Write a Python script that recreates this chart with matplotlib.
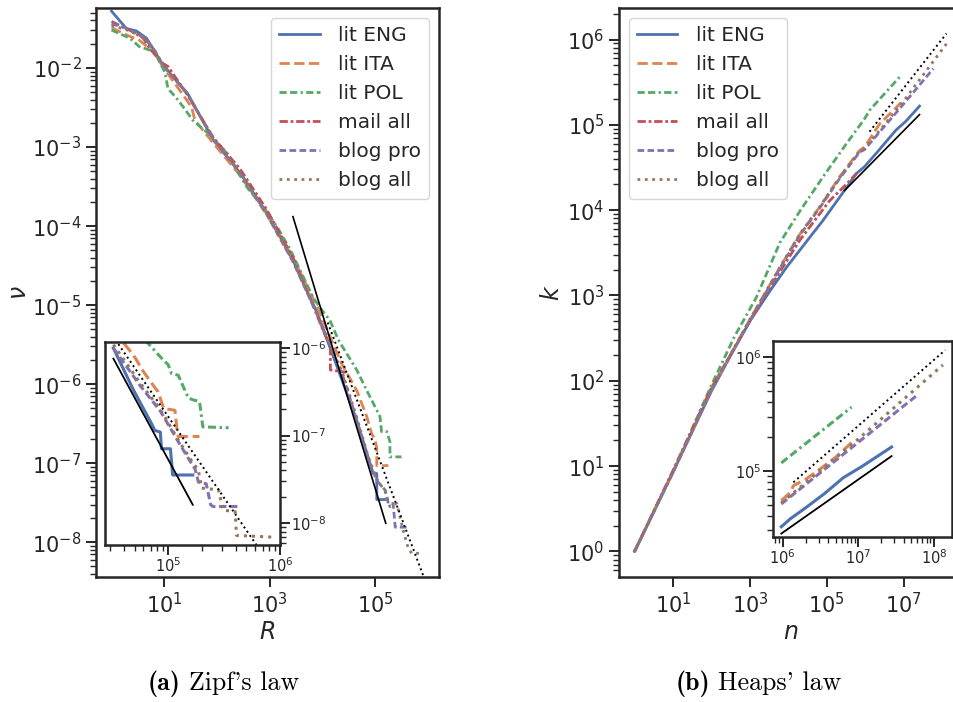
import numpy as np
import matplotlib
matplotlib.use("Agg")
import matplotlib.pyplot as plt
from matplotlib.ticker import NullLocator, NullFormatter, FixedLocator

# ---------------- data (log10 values) ----------------
labels = ["lit ENG", "lit ITA", "lit POL", "mail all", "blog pro", "blog all"]
colors = ["#4C72B0", "#DD8452", "#55A868", "#C44E52", "#8172B3", "#937860"]
styles = ["-", "--", (0, (2.6, 1.2, 2.6, 1.2, 0.8, 1.2)), (0, (3, 1, 1, 1)), (0, (2.4, 1.2)), ":"]

# Zipf main: log10 R, log10 nu
zipf_eng_x = [0.0, 0.28, 0.47, 0.66, 0.82, 0.97, 1.44, 1.93, 2.44, 2.95, 3.44, 3.90, 4.30, 4.65, 4.90, 4.96, 5.03, 5.03, 5.19]
zipf_eng_y = [-1.28, -1.50, -1.53, -1.62, -1.79, -1.96, -2.32, -2.91, -3.33, -3.84, -4.43, -5.10, -5.82, -6.46, -7.00, -7.13, -7.13, -7.46, -7.46]
zipf_ita_x = [0.0, 0.28, 0.53, 0.79, 0.97, 1.42, 1.52, 1.58, 1.93, 2.44, 2.95, 3.44, 3.90, 4.37, 4.65, 4.84, 4.93, 5.00, 5.03, 5.03, 5.25]
zipf_ita_y = [-1.49, -1.58, -1.65, -1.79, -1.98, -2.40, -2.50, -2.66, -2.95, -3.36, -3.86, -4.40, -5.02, -5.75, -6.08, -6.41, -6.62, -6.71, -6.81, -7.03, -7.03]
zipf_pol_x = [0.0, 0.34, 0.53, 0.81, 1.01, 1.07, 1.23, 1.38, 1.54, 1.82, 2.19, 2.57, 2.88, 3.14, 3.39, 3.82, 3.95, 4.14, 4.30, 4.65, 4.84, 5.00, 5.09, 5.12, 5.22, 5.28, 5.28, 5.50]
zipf_pol_y = [-1.52, -1.62, -1.73, -1.79, -2.05, -2.26, -2.38, -2.51, -2.66, -2.82, -3.08, -3.51, -3.76, -4.01, -4.30, -4.90, -5.03, -5.19, -5.44, -5.82, -6.08, -6.29, -6.41, -6.60, -6.60, -6.73, -6.92, -6.92]
zipf_mail_x = [0.0, 0.34, 0.60, 0.72, 0.97, 1.07, 1.42, 1.93, 2.44, 2.95, 3.44, 3.82, 4.00, 4.10, 4.15, 4.15, 4.45]
zipf_mail_y = [-1.41, -1.52, -1.62, -1.75, -1.94, -1.98, -2.32, -2.88, -3.28, -3.80, -4.40, -5.00, -5.30, -5.45, -5.50, -5.82, -5.85]
zipf_pro_x = [0.0, 0.30, 0.60, 0.82, 0.97, 1.44, 1.93, 2.44, 2.95, 3.44, 3.90, 4.39, 4.65, 4.87, 5.03, 5.19, 5.25, 5.34, 5.38, 5.63]
zipf_pro_y = [-1.44, -1.50, -1.60, -1.78, -1.96, -2.33, -2.90, -3.33, -3.86, -4.45, -5.12, -5.90, -6.45, -6.96, -7.22, -7.34, -7.51, -7.51, -7.81, -7.81]
zipf_all_x = [0.0, 0.30, 0.60, 0.82, 0.97, 1.44, 1.93, 2.44, 2.95, 3.44, 3.90, 4.39, 4.65, 4.87, 5.03, 5.19, 5.28, 5.41, 5.53, 5.62, 5.69, 5.85]
zipf_all_y = [-1.46, -1.52, -1.61, -1.78, -1.95, -2.33, -2.89, -3.32, -3.85, -4.44, -5.11, -5.88, -6.42, -6.92, -7.20, -7.36, -7.55, -7.51, -7.85, -8.06, -8.14, -8.14]
zipf_fit_x = [3.44, 5.20]
zipf_fit_y = [-3.88, -7.76]
zipf_fit2_x = [4.10, 5.91]
zipf_fit2_y = [-5.22, -8.42]

# Zipf inset (tail)
zin_eng_x = [4.51, 4.69, 4.85, 4.88, 4.93, 4.94, 5.02, 5.04, 5.22]
zin_eng_y = [-6.00, -6.48, -6.86, -6.94, -6.96, -7.15, -7.15, -7.45, -7.45]
zin_ita_x = [4.51, 4.69, 4.78, 4.84, 4.91, 4.96, 5.06, 5.08, 5.09, 5.28]
zin_ita_y = [-5.80, -6.08, -6.27, -6.38, -6.50, -6.69, -6.71, -6.94, -7.01, -7.01]
zin_pol_x = [4.70, 4.81, 4.93, 5.00, 5.03, 5.09, 5.18, 5.22, 5.28, 5.31, 5.54]
zin_pol_y = [-5.85, -5.93, -6.10, -6.19, -6.29, -6.31, -6.57, -6.59, -6.61, -6.90, -6.91]
zin_pro_x = [4.51, 4.75, 4.93, 5.10, 5.19, 5.24, 5.27, 5.34, 5.38, 5.40, 5.64]
zin_pro_y = [-6.00, -6.43, -6.72, -7.09, -7.28, -7.38, -7.53, -7.55, -7.79, -7.81, -7.81]
zin_all_x = [4.51, 4.75, 4.93, 5.10, 5.20, 5.27, 5.30, 5.45, 5.49, 5.60, 5.61, 5.93]
zin_all_y = [-5.96, -6.40, -6.70, -7.07, -7.27, -7.40, -7.60, -7.62, -7.85, -7.87, -8.14, -8.16]
zin_fit_x = [4.51, 5.22]
zin_fit_y = [-6.12, -7.79]
zin_fit2_x = [4.45, 5.79]
zin_fit2_y = [-5.76, -8.25]

# Heaps main: log10 n, log10 k
heaps_eng_x = [0, 1, 2, 2.5, 3, 3.5, 3.95, 4.45, 4.90, 5.33, 5.77, 5.98, 6.31, 6.80, 7.05, 7.41]
heaps_eng_y = [0, 0.93, 1.88, 2.30, 2.70, 3.04, 3.33, 3.62, 3.88, 4.15, 4.43, 4.51, 4.68, 4.94, 5.04, 5.22]
heaps_ita_x = [0, 1, 2, 3, 3.78, 4.30, 4.82, 5.33, 5.85, 5.98, 6.37, 6.93]
heaps_ita_y = [0, 0.93, 1.90, 2.72, 3.33, 3.72, 4.04, 4.39, 4.70, 4.74, 5.01, 5.26]
heaps_pol_x = [0, 1, 2, 2.6, 3.17, 3.78, 4.30, 4.90, 5.51, 5.98, 6.11, 6.89]
heaps_pol_y = [0, 0.93, 1.95, 2.52, 2.98, 3.62, 3.99, 4.39, 4.78, 5.07, 5.17, 5.56]
heaps_mail_x = [0, 1, 2, 3, 3.5, 4.30, 5.07, 5.50, 5.77]
heaps_mail_y = [0, 0.95, 1.92, 2.70, 3.08, 3.65, 4.11, 4.30, 4.43]
heaps_pro_x = [0, 1, 2, 3, 3.78, 4.30, 4.82, 5.33, 5.85, 5.98, 6.93, 7.77]
heaps_pro_y = [0, 0.93, 1.89, 2.71, 3.32, 3.71, 4.03, 4.37, 4.68, 4.71, 5.21, 5.66]
heaps_all_x = [0, 1, 2, 3, 3.78, 4.30, 4.82, 5.33, 5.85, 5.98, 6.93, 8.11]
heaps_all_y = [0, 0.93, 1.90, 2.72, 3.33, 3.72, 4.04, 4.38, 4.69, 4.72, 5.24, 5.95]
heaps_fit_x = [5.46, 7.41]
heaps_fit_y = [4.23, 5.12]
heaps_fit2_x = [6.11, 8.11]
heaps_fit2_y = [4.92, 6.07]

# Heaps inset
hin_eng_x = [5.98, 6.10, 6.31, 6.55, 6.80, 7.05, 7.44]
hin_eng_y = [4.51, 4.58, 4.68, 4.80, 4.94, 5.04, 5.21]
hin_ita_x = [5.98, 6.10, 6.14, 6.31, 6.50, 6.70, 6.93]
hin_ita_y = [4.74, 4.81, 4.87, 4.93, 5.02, 5.12, 5.26]
hin_pol_x = [5.98, 6.91]
hin_pol_y = [5.07, 5.56]
hin_pro_x = [5.98, 7.77]
hin_pro_y = [4.71, 5.66]
hin_all_x = [5.98, 6.93, 8.12]
hin_all_y = [4.72, 5.24, 5.93]
hin_fit_x = [5.98, 7.44]
hin_fit_y = [4.45, 5.13]
hin_fit2_x = [6.14, 8.15]
hin_fit2_y = [4.90, 6.06]

# tick decades
zipf_xticks = [1, 3, 5]
zipf_yticks = [-8, -7, -6, -5, -4, -3, -2]
zin_xticks = [5, 6]
zin_yticks = [-8, -7, -6]
heaps_xticks = [1, 3, 5, 7]
heaps_yticks = [0, 1, 2, 3, 4, 5, 6]
hin_xticks = [6, 7, 8]
hin_yticks = [5, 6]

# ---------------- style ----------------
DARK = "#262626"
plt.rcParams.update({
    "font.family": ["DejaVu Sans"],
    "axes.edgecolor": DARK,
    "axes.linewidth": 1.8,
    "xtick.color": DARK, "ytick.color": DARK,
    "xtick.major.width": 1.4, "ytick.major.width": 1.4,
    "xtick.minor.width": 1.0, "ytick.minor.width": 1.0,
    "xtick.major.size": 7, "ytick.major.size": 7,
    "xtick.minor.size": 4.2, "ytick.minor.size": 4.2,
    "text.color": DARK, "axes.labelcolor": DARK,
})

W, H = 954, 702
fig = plt.figure(figsize=(W / 100, H / 100), dpi=100)

def rect(x0, y0, x1, y1):
    return [x0 / W, 1 - y1 / H, (x1 - x0) / W, (y1 - y0) / H]

def p(v):
    return 10 ** np.asarray(v, dtype=float)

def minor_positions(lo, hi):
    out = []
    for d in range(int(np.floor(lo)) - 1, int(np.ceil(hi)) + 1):
        for s in range(2, 10):
            v = np.log10(s) + d
            if lo <= v <= hi:
                out.append(10 ** v)
    return out

def set_ticks(axis, majors, lo, hi, minor=True):
    axis.set_major_locator(FixedLocator(list(p(majors))))
    if minor:
        axis.set_minor_locator(FixedLocator(minor_positions(lo, hi)))
    else:
        axis.set_minor_locator(NullLocator())
    axis.set_minor_formatter(NullFormatter())

LW = 2.0

def draw_series(ax, series, lw=LW, label=True):
    for (xs, ys), lab, c, ls in zip(series, labels, colors, styles):
        if xs is None:
            continue
        ax.plot(p(xs), p(ys), color=c, ls=ls, lw=lw, label=lab if label else None)

def style_legend(ax, loc):
    leg = ax.legend(loc=loc, fontsize=14.5, labelspacing=0.5, handlelength=2.0,
                    handletextpad=0.9, borderaxespad=0.5, fancybox=True, framealpha=0.8)
    leg.get_frame().set_edgecolor("#cccccc")
    return leg

# ---------------- left: Zipf ----------------
axL = fig.add_axes(rect(96, 8, 439, 577))
axL.set_xscale("log"); axL.set_yscale("log")
draw_series(axL, [(zipf_eng_x, zipf_eng_y), (zipf_ita_x, zipf_ita_y), (zipf_pol_x, zipf_pol_y),
                  (zipf_mail_x, zipf_mail_y), (zipf_pro_x, zipf_pro_y), (zipf_all_x, zipf_all_y)])
axL.plot(p(zipf_fit_x), p(zipf_fit_y), color="black", lw=1.2)
axL.plot(p(zipf_fit2_x), p(zipf_fit2_y), color="black", lw=1.4, ls=":")
xl, yl = (-0.295, 6.21), (-8.44, -1.24)
axL.set_xlim(p(xl)); axL.set_ylim(p(yl))
set_ticks(axL.xaxis, zipf_xticks, *xl, minor=False)
set_ticks(axL.yaxis, zipf_yticks, *yl)
axL.tick_params(labelsize=15)
axL.set_xlabel(r"$R$", fontsize=17, labelpad=2)
axL.set_ylabel(r"$\nu$", fontsize=17, labelpad=1)
style_legend(axL, "upper right")

# left inset
axLi = fig.add_axes(rect(105, 342, 280, 545))
axLi.set_xscale("log"); axLi.set_yscale("log")
draw_series(axLi, [(zin_eng_x, zin_eng_y), (zin_ita_x, zin_ita_y), (zin_pol_x, zin_pol_y),
                   (None, None), (zin_pro_x, zin_pro_y), (zin_all_x, zin_all_y)], lw=2.2, label=False)
axLi.plot(p(zin_fit_x), p(zin_fit_y), color="black", lw=1.3)
axLi.plot(p(zin_fit2_x), p(zin_fit2_y), color="black", lw=1.4, ls=":")
xl, yl = (4.435, 6.0), (-8.25, -5.93)
axLi.set_xlim(p(xl)); axLi.set_ylim(p(yl))
axLi.yaxis.tick_right()
set_ticks(axLi.xaxis, zin_xticks, *xl)
set_ticks(axLi.yaxis, zin_yticks, *yl)
axLi.tick_params(labelsize=10.5, pad=1)

# ---------------- right: Heaps ----------------
axR = fig.add_axes(rect(619, 8, 962, 577))
axR.set_xscale("log"); axR.set_yscale("log")
draw_series(axR, [(heaps_eng_x, heaps_eng_y), (heaps_ita_x, heaps_ita_y), (heaps_pol_x, heaps_pol_y),
                  (heaps_mail_x, heaps_mail_y), (heaps_pro_x, heaps_pro_y), (heaps_all_x, heaps_all_y)])
axR.plot(p(heaps_fit_x), p(heaps_fit_y), color="black", lw=1.2)
axR.plot(p(heaps_fit2_x), p(heaps_fit2_y), color="black", lw=1.4, ls=":")
xl, yl = (-0.405, 8.515), (-0.30, 6.37)
axR.set_xlim(p(xl)); axR.set_ylim(p(yl))
set_ticks(axR.xaxis, heaps_xticks, *xl, minor=False)
set_ticks(axR.yaxis, heaps_yticks, *yl)
axR.tick_params(labelsize=15)
axR.set_xlabel(r"$n$", fontsize=17, labelpad=2)
axR.set_ylabel(r"$k$", fontsize=17, labelpad=2)
style_legend(axR, "upper left")

# right inset
axRi = fig.add_axes(rect(773, 341, 952, 537))
axRi.set_xscale("log"); axRi.set_yscale("log")
draw_series(axRi, [(hin_eng_x, hin_eng_y), (hin_ita_x, hin_ita_y), (hin_pol_x, hin_pol_y),
                   (None, None), (hin_pro_x, hin_pro_y), (hin_all_x, hin_all_y)], lw=2.2, label=False)
axRi.plot(p(hin_fit_x), p(hin_fit_y), color="black", lw=1.3)
axRi.plot(p(hin_fit2_x), p(hin_fit2_y), color="black", lw=1.4, ls=":")
xl, yl = (5.87, 8.24), (4.42, 6.14)
axRi.set_xlim(p(xl)); axRi.set_ylim(p(yl))
set_ticks(axRi.xaxis, hin_xticks, *xl)
set_ticks(axRi.yaxis, hin_yticks, *yl)
axRi.tick_params(labelsize=10.5, pad=1)

# ---------------- captions ----------------
CAP_Y = 1 - 690 / H
fig.text(180 / W, CAP_Y, "(a)", family="cmb10", fontsize=18.7, ha="right", va="baseline", color="black")
fig.text(189 / W, CAP_Y, "Zipf's law", family="cmr10", fontsize=18.7, ha="left", va="baseline", color="black")
fig.text(710 / W, CAP_Y, "(b)", family="cmb10", fontsize=18.7, ha="right", va="baseline", color="black")
fig.text(718 / W, CAP_Y, "Heaps' law", family="cmr10", fontsize=18.7, ha="left", va="baseline", color="black")

fig.savefig("out.png", dpi=100)
